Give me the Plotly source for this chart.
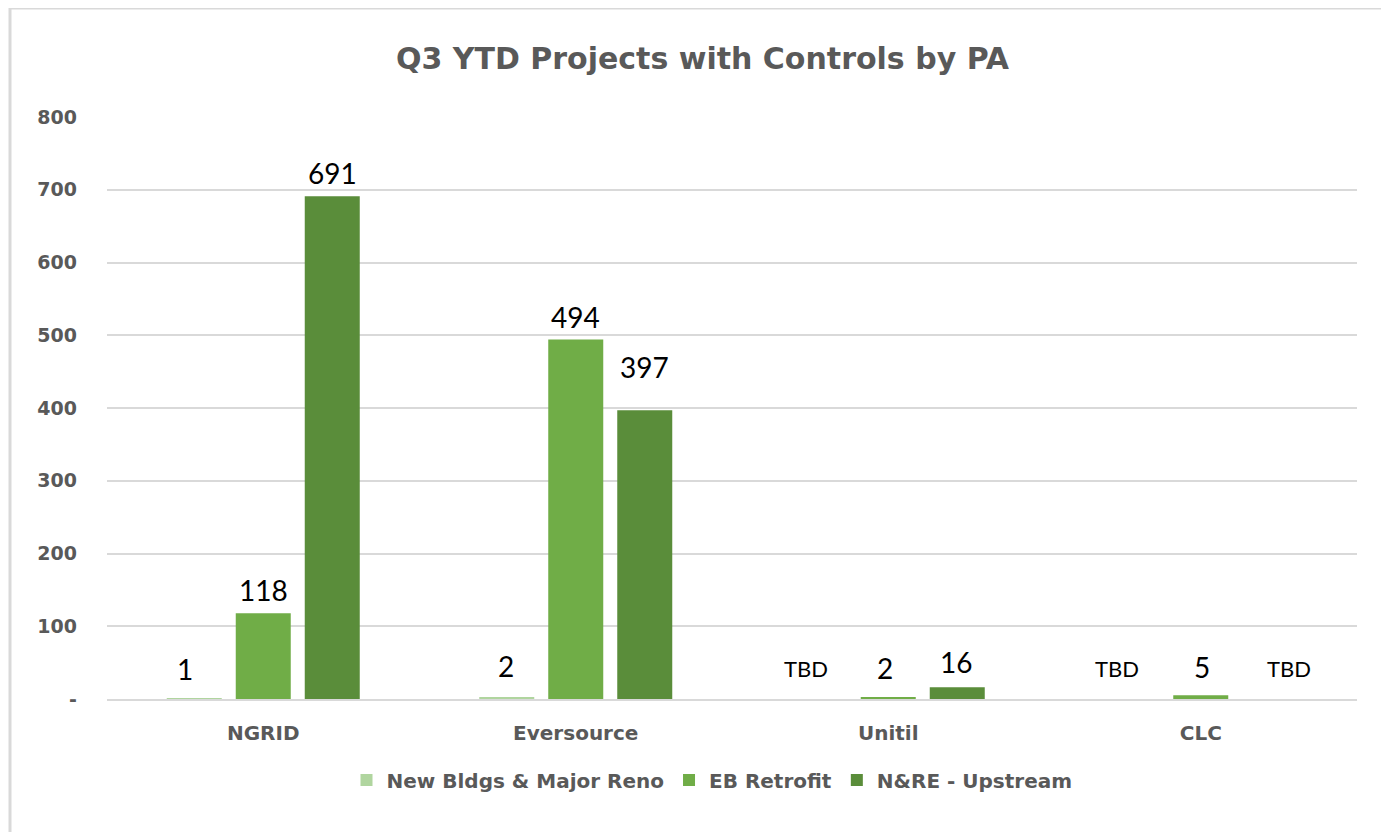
import plotly.graph_objects as go

categories = ["NGRID", "Eversource", "Unitil", "CLC"]
series_names = ["New Bldgs & Major Reno", "EB Retrofit", "N&RE - Upstream"]
new_bldgs = [1, 2, None, None]
eb_retrofit = [118, 494, 2, 5]
nre_upstream = [691, 397, 16, None]
y_tickvals = [0, 100, 200, 300, 400, 500, 600, 700, 800]
y_ticktext = ["-", "100", "200", "300", "400", "500", "600", "700", "800"]

colors = ["#b0d59f", "#70ad47", "#5a8d3a"]
series_values = [new_bldgs, eb_retrofit, nre_upstream]

LABEL_FONT = "Lato"
BOLD_FONT = "DejaVu Sans"
GREY = "#595959"

# manual data-label nudges (pixels), as placed in the original chart
label_nudge = {
    (0, 0): (-9, 10), (0, 1): (-1, 13), (0, 2): (-13, 15), (0, 3): (-15, 15),
    (1, 2): (-3, 11), (2, 2): (-1, 6), (1, 3): (1, 9), (2, 3): (19, 15),
    (2, 1): (0, 24),
}

fig = go.Figure()
for name, vals, col in zip(series_names, series_values, colors):
    fig.add_trace(go.Bar(
        name=name, x=categories, y=[v if v is not None else 0 for v in vals],
        marker=dict(color=col, line=dict(width=0)),
        hoverinfo="x+y+name",
    ))

slot_px = 69
for si, vals in enumerate(series_values):
    for ci, v in enumerate(vals):
        label = "TBD" if v is None else str(v)
        size = 22 if v is None else 28
        dx, dy = label_nudge.get((si, ci), (0, 4))
        fig.add_annotation(
            x=categories[ci], y=v if v is not None else 0, text=label,
            xref="x", yref="y", showarrow=False, yanchor="bottom",
            xshift=(si - 1) * slot_px + dx, yshift=dy,
            font=dict(family=LABEL_FONT, size=size, color="#000000"),
        )

fig.update_layout(
    width=1389, height=832,
    margin=dict(l=99, r=40, t=109, b=141, autoexpand=False),
    paper_bgcolor="white", plot_bgcolor="white",
    barmode="group", bargap=0.3376, bargroupgap=0.203,
    title=dict(text="<b>Q3 YTD Projects with Controls by PA</b>", x=0.5, xanchor="center",
               y=1 - 50 / 832, yanchor="middle",
               font=dict(family=BOLD_FONT, size=30, color=GREY)),
    font=dict(family=BOLD_FONT, color=GREY),
    showlegend=True,
    legend=dict(orientation="h", x=(712 - 107) / 1250, xanchor="center",
                y=(699 - 780) / 582, yanchor="middle",
                font=dict(family=BOLD_FONT, size=20, color=GREY, weight="bold"),
                itemwidth=30, traceorder="normal"),
    xaxis=dict(showline=True, linecolor="#d9d9d9", linewidth=2, showgrid=False,
               ticks="", tickfont=dict(family=BOLD_FONT, size=20, color=GREY, weight="bold"),
               ticklabelstandoff=15),
    yaxis=dict(range=[0, 800], tickvals=y_tickvals, ticktext=y_ticktext,
               showgrid=True, gridcolor="#d9d9d9", gridwidth=2, zeroline=False,
               showline=False, ticks="",
               tickfont=dict(family=BOLD_FONT, size=19, color=GREY, weight="bold"),
               ticklabelstandoff=29),
)

# outer chart border
px0, px1, py0, py1 = 10, 1388, 8, 860
fig.add_shape(type="rect", xref="paper", yref="paper",
              x0=(px0 - 107) / 1250, x1=(px1 - 107) / 1250,
              y0=(699 - py1) / 582, y1=(699 - py0) / 582,
              line=dict(color="#d9d9d9", width=3), fillcolor="rgba(0,0,0,0)", layer="below")

fig.write_html("out.html")
